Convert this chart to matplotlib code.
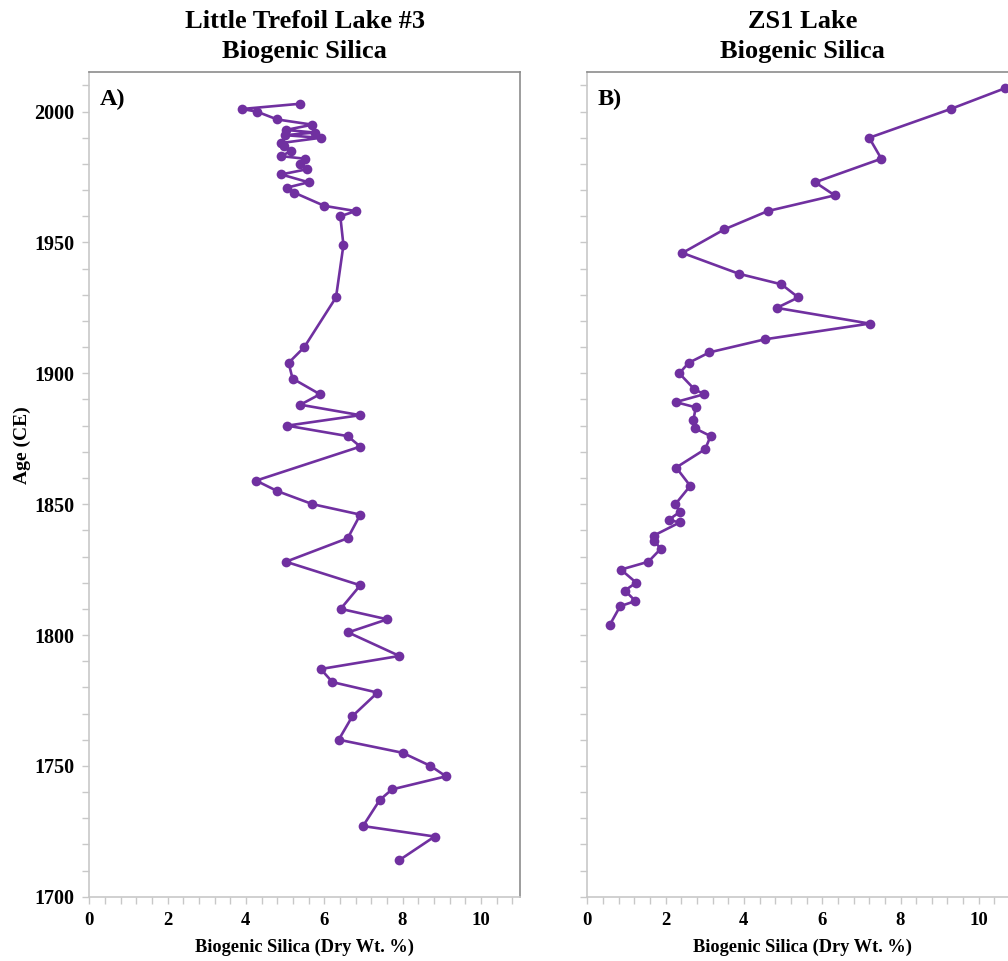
import numpy as np
import matplotlib
matplotlib.use('Agg')
import matplotlib.pyplot as plt
from matplotlib.ticker import MultipleLocator

#==============================================================================
'''DATOS'''
#==============================================================================

# Little Trefoil Lake #3
age_a = [2003, 2001, 2000, 1997, 1995, 1993, 1992, 1991, 1990, 1988, 1987, 1985,
         1983, 1982, 1980, 1978, 1976, 1973, 1971, 1969, 1964, 1962, 1960, 1949,
         1929, 1910, 1904, 1898, 1892, 1888, 1884, 1880, 1876, 1872, 1859, 1855,
         1850, 1846, 1837, 1828, 1819, 1810, 1806, 1801, 1792, 1787, 1782, 1778,
         1769, 1760, 1755, 1750, 1746, 1741, 1737, 1727, 1723, 1714]
bsi_a = [5.38, 3.90, 4.28, 4.80, 5.70, 5.02, 5.76, 5.00, 5.91, 4.90, 4.96, 5.16,
         4.90, 5.50, 5.38, 5.57, 4.90, 5.60, 5.06, 5.24, 6.00, 6.80, 6.41, 6.49,
         6.30, 5.49, 5.09, 5.19, 5.89, 5.39, 6.92, 5.05, 6.60, 6.92, 4.26, 4.80,
         5.70, 6.92, 6.60, 5.02, 6.92, 6.42, 7.61, 6.61, 7.92, 5.91, 6.21, 7.36,
         6.72, 6.37, 8.00, 8.71, 9.11, 7.73, 7.42, 6.99, 8.82, 7.92]

# ZS1 Lake
age_b = [2009, 2001, 1990, 1982, 1973, 1968, 1962, 1955, 1946, 1938, 1934, 1929,
         1925, 1919, 1913, 1908, 1904, 1900, 1894, 1892, 1889, 1887, 1882, 1879,
         1876, 1871, 1864, 1857, 1850, 1847, 1844, 1843, 1838, 1836, 1833, 1828,
         1825, 1820, 1817, 1813, 1811, 1804]
bsi_b = [10.68, 9.28, 7.20, 7.51, 5.82, 6.32, 4.61, 3.50, 2.43, 3.88, 4.96, 5.39,
         4.84, 7.21, 4.54, 3.12, 2.59, 2.35, 2.73, 2.98, 2.26, 2.77, 2.71, 2.75,
         3.15, 3.01, 2.27, 2.63, 2.25, 2.36, 2.08, 2.36, 1.70, 1.70, 1.88, 1.56,
         0.86, 1.25, 0.96, 1.23, 0.84, 0.58]

titles = ['Little Trefoil Lake #3\nBiogenic Silica', 'ZS1 Lake\nBiogenic Silica']
panel_tags = ['A)', 'B)']
xlabel = 'Biogenic Silica (Dry Wt. %)'
ylabel = 'Age (CE)'

#==============================================================================
'''GRAFICA'''
#==============================================================================

plt.rcParams['font.family'] = ['Liberation Serif', 'DejaVu Serif']
plt.rcParams['font.weight'] = 'bold'

purple = '#7030A0'
light = '#C8C8C8'
dark = '#8C8C8C'

fig = plt.figure(figsize=(10.08, 9.61), dpi=100, facecolor='w')
ax1 = fig.add_axes([0.0886, 0.0669, 0.4273, 0.8578])
ax2 = fig.add_axes([0.5826, 0.0669, 0.4273, 0.8578])

for i, (ax, x, y) in enumerate([(ax1, bsi_a, age_a), (ax2, bsi_b, age_b)]):
    ax.plot(x, y, color=purple, linewidth=1.9, marker='o', markersize=7,
            markeredgewidth=0, clip_on=False)
    ax.set_xlim(0, 11)
    ax.set_ylim(1700, 2015)
    ax.xaxis.set_major_locator(MultipleLocator(2))
    ax.xaxis.set_minor_locator(MultipleLocator(0.4))
    ax.yaxis.set_major_locator(MultipleLocator(50))
    ax.yaxis.set_minor_locator(MultipleLocator(10))
    ax.tick_params(which='both', direction='out', color=light, width=1.0, length=5,
                   pad=6)
    ax.tick_params(axis='x', labelsize=13.5)
    ax.tick_params(axis='y', labelsize=14.5)
    ax.spines['left'].set_color(light)
    ax.spines['bottom'].set_color(light)
    ax.spines['top'].set_color(dark)
    ax.spines['right'].set_color(dark)
    for s in ax.spines.values():
        s.set_linewidth(1.2)
    ax.set_xlabel(xlabel, fontsize=13.2, fontweight='bold', labelpad=7)
    ax.set_title(titles[i], fontsize=19, fontweight='bold', pad=10.5, linespacing=1.4)
    ax.text(0.025, 0.967, panel_tags[i], transform=ax.transAxes, fontsize=17.5,
            fontweight='bold', va='center', ha='left')

ax1.set_ylabel(ylabel, fontsize=14, fontweight='bold')
ax1.yaxis.set_label_coords(-0.135, 0.548)
ax2.tick_params(axis='y', labelleft=False)

fig.savefig('out.png', dpi=100, facecolor='w')
